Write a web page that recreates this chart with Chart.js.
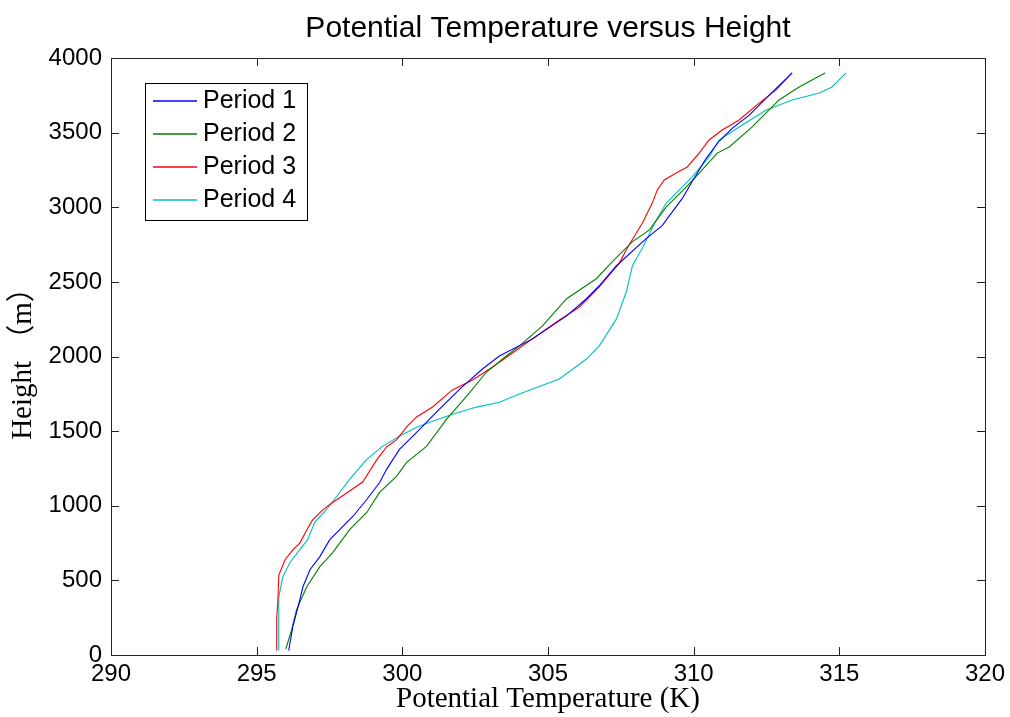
<!DOCTYPE html>
<html>
<head>
<meta charset="utf-8">
<script src="https://cdn.jsdelivr.net/npm/chart.js@4.4.0/dist/chart.umd.min.js"></script>
<style>
  html, body { margin: 0; padding: 0; background: #fff; }
  #wrap { width: 1010px; height: 717px; }
</style>
</head>
<body>
<div id="wrap"><canvas id="cv" width="1010" height="717"></canvas></div>
<script>
// values
const xTicks = [290, 295, 300, 305, 310, 315, 320];
const yTicks = [0, 500, 1000, 1500, 2000, 2500, 3000, 3500, 4000];
const seriesNames = ["Period 1", "Period 2", "Period 3", "Period 4"];
const seriesColors = ["#0000ff", "#008000", "#ff0000", "#00bfbf"];

const p1Temp = [296.10, 296.24, 296.42, 296.59, 296.83, 297.17, 297.51, 297.85, 298.30, 298.78, 299.22, 299.46, 299.90, 300.49, 301.17, 301.97, 302.75, 303.33, 304.47, 305.64, 306.32, 306.76, 307.35, 308.37, 308.92, 309.61, 309.95, 310.43, 310.87, 311.33, 311.91, 312.49, 313.38];
const p1Height = [30, 188, 323, 457, 571, 659, 773, 840, 928, 1042, 1156, 1244, 1378, 1492, 1627, 1782, 1916, 2003, 2118, 2272, 2387, 2474, 2608, 2790, 2877, 3059, 3173, 3328, 3442, 3530, 3617, 3731, 3900];

const p2Temp = [296.00, 296.20, 296.37, 296.72, 297.17, 297.61, 298.19, 298.78, 299.22, 299.80, 300.15, 300.83, 301.52, 302.21, 302.89, 303.57, 304.02, 304.81, 305.64, 306.66, 307.21, 307.90, 308.48, 309.06, 309.75, 310.19, 310.81, 311.22, 312.01, 312.93, 313.62, 314.51];
const p2Height = [40, 168, 303, 457, 592, 686, 840, 955, 1089, 1197, 1291, 1398, 1580, 1734, 1896, 2003, 2071, 2205, 2387, 2521, 2635, 2770, 2848, 3002, 3136, 3229, 3363, 3404, 3538, 3719, 3806, 3900];

const p3Temp = [295.69, 295.69, 295.73, 295.76, 295.83, 295.97, 296.24, 296.48, 296.72, 296.92, 297.27, 297.58, 298.09, 298.64, 299.12, 299.46, 299.80, 300.15, 300.49, 301.04, 301.72, 302.41, 303.10, 303.78, 304.26, 305.39, 306.08, 306.76, 307.45, 307.72, 308.24, 308.58, 308.75, 308.99, 309.40, 309.78, 310.19, 310.53, 310.98, 311.56, 312.25, 312.83, 313.38];
const p3Height = [30, 255, 369, 536, 570, 637, 704, 750, 838, 905, 972, 1018, 1085, 1159, 1307, 1394, 1441, 1528, 1595, 1662, 1776, 1843, 1930, 2023, 2090, 2245, 2332, 2466, 2626, 2727, 2894, 3028, 3116, 3183, 3229, 3270, 3363, 3451, 3518, 3585, 3698, 3786, 3900];

const p4Temp = [295.76, 295.76, 295.90, 296.14, 296.48, 296.75, 296.99, 297.40, 297.85, 298.19, 298.78, 299.32, 299.90, 300.49, 301.04, 301.72, 302.55, 303.33, 304.02, 304.47, 305.39, 306.32, 306.76, 307.35, 307.69, 307.90, 308.24, 308.72, 309.06, 309.51, 309.95, 310.53, 310.87, 311.56, 312.49, 313.38, 314.31, 314.75, 315.23];
const p4Height = [30, 390, 524, 618, 706, 773, 887, 975, 1089, 1177, 1311, 1398, 1466, 1526, 1566, 1613, 1661, 1694, 1748, 1782, 1849, 1983, 2071, 2252, 2434, 2609, 2727, 2915, 3028, 3116, 3203, 3337, 3450, 3538, 3651, 3719, 3765, 3806, 3900];

const temps = [p1Temp, p2Temp, p3Temp, p4Temp];
const heights = [p1Height, p2Height, p3Height, p4Height];

const SANS = "'Liberation Sans', Arial, sans-serif";
const SERIF = "'Liberation Serif', 'Noto Sans CJK SC', serif";

Chart.defaults.color = "#000";

// MATLAB style box: frame, inward ticks on all sides, legend inside, title over the plot
const matlabBox = {
  id: "matlabBox",
  afterDraw(chart) {
    const { ctx, chartArea: a, scales: { x, y } } = chart;
    ctx.save();
    ctx.strokeStyle = "#222";
    ctx.lineWidth = 1;
    ctx.strokeRect(a.left + 0.5, a.top + 0.5, a.right - a.left, a.bottom - a.top);

    ctx.beginPath();
    xTicks.forEach(v => {
      const px = Math.round(x.getPixelForValue(v)) + 0.5;
      ctx.moveTo(px, a.bottom); ctx.lineTo(px, a.bottom - 8);
      ctx.moveTo(px, a.top); ctx.lineTo(px, a.top + 8);
    });
    yTicks.forEach(v => {
      const py = Math.round(y.getPixelForValue(v)) + 0.5;
      ctx.moveTo(a.left, py); ctx.lineTo(a.left + 8, py);
      ctx.moveTo(a.right, py); ctx.lineTo(a.right - 8, py);
    });
    ctx.stroke();

    // legend
    const lx = Math.round(a.left) + 34, ly = Math.round(a.top) + 25;
    ctx.fillStyle = "#fff";
    ctx.fillRect(lx, ly, 162, 137);
    ctx.strokeStyle = "#000";
    ctx.strokeRect(lx + 0.5, ly + 0.5, 162, 137);
    ctx.font = "25px " + SANS;
    ctx.textBaseline = "middle";
    ctx.textAlign = "left";
    seriesNames.forEach((name, i) => {
      const ry = ly + 18 + i * 33;
      ctx.strokeStyle = seriesColors[i];
      ctx.lineWidth = 1.3;
      ctx.beginPath();
      ctx.moveTo(lx + 8, ry); ctx.lineTo(lx + 52, ry);
      ctx.stroke();
      ctx.fillStyle = "#000";
      ctx.fillText(name, lx + 58, ry);
    });

    // title
    ctx.font = "30px " + SANS;
    ctx.textAlign = "center";
    ctx.fillText("Potential Temperature versus Height", (a.left + a.right) / 2, 29);
    ctx.restore();
  }
};

new Chart(document.getElementById("cv"), {
  type: "scatter",
  data: {
    datasets: seriesNames.map((name, i) => ({
      label: name,
      data: temps[i].map((t, k) => ({ x: t, y: heights[i][k] })),
      showLine: true,
      borderColor: seriesColors[i],
      borderWidth: 1.1,
      pointRadius: 0,
      tension: 0
    }))
  },
  options: {
    responsive: false,
    animation: false,
    layout: { padding: { top: 58, right: 24, left: 0, bottom: 0 } },
    plugins: { legend: { display: false }, tooltip: { enabled: false }, title: { display: false } },
    scales: {
      x: {
        type: "linear", min: 290, max: 320,
        afterFit: s => { s.height = 62; },
        afterBuildTicks: s => { s.ticks = xTicks.map(v => ({ value: v })); },
        grid: { display: false, drawTicks: false },
        border: { display: false },
        ticks: { font: { family: SANS, size: 24 }, padding: 5, maxRotation: 0, callback: v => String(v) },
        title: { display: true, text: "Potential Temperature (K)", font: { family: SERIF, size: 29 }, padding: { top: 0, bottom: 0 } }
      },
      y: {
        type: "linear", min: 0, max: 4000,
        afterFit: s => { s.width = 111; },
        afterBuildTicks: s => { s.ticks = yTicks.map(v => ({ value: v })); },
        grid: { display: false, drawTicks: false },
        border: { display: false },
        ticks: { font: { family: SANS, size: 24 }, padding: 9, callback: v => String(v) },
        title: { display: true, text: "Height （m）", font: { family: SERIF, size: 29 }, padding: { top: 6, bottom: 0 } }
      }
    }
  },
  plugins: [matlabBox]
});
</script>
</body>
</html>
